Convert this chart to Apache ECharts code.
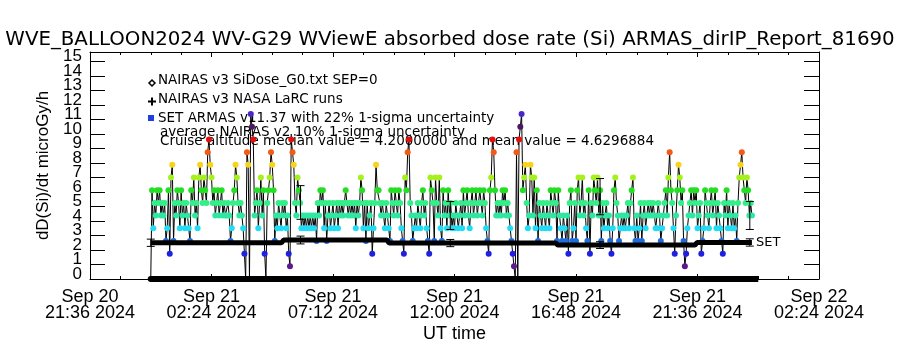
<!DOCTYPE html>
<html>
<head>
<meta charset="utf-8">
<script src="https://cdn.jsdelivr.net/npm/echarts@6/dist/echarts.min.js"></script>
<style>
  html, body { margin: 0; padding: 0; background: #fff; }
  #chart { width: 900px; height: 350px; }
</style>
</head>
<body>
<div id="chart"></div>
<script>
// ---- axis window (UT) ----
const AXIS_START = '2024-09-20T21:36:00Z';
const AXIS_HOURS = 28.8;
const TICK_HOURS = 4.8;
const Y_MAX = 15.66;
const Y_TICKS = [0, 1, 2, 3, 4, 5, 6, 7, 8, 9, 10, 11, 12, 13, 14, 15];
const Y_LABELS_EVEN = [0, 2, 4, 6, 8, 10, 12, 14];
const Y_LABELS_ODD = [1, 3, 5, 7, 9, 11, 13, 15];

// ---- ARMAS quantised dose-rate levels (microGy/h) and their colours ----
const ARMAS_LEVELS = [0, 0.875, 1.75, 2.625, 3.5, 4.375, 5.25, 6.125, 7.0, 7.875, 8.75, 9.625, 10.5, 11.375];
const LEVEL_COLORS = ['#000000', '#5c1a8e', '#2020e0', '#1f6cdc', '#22dcf4', '#2ee8a2', '#34ee8a',
  '#22e022', '#a6f020', '#f6d41e', '#f25a16', '#e41010', '#4c1862', '#4a26d0'];

// ARMAS samples, 3 min cadence from 2024-09-21 00:00 UT, one row per hour (index into ARMAS_LEVELS)
const ARMAS_START = '2024-09-21T00:00:00Z';
const ARMAS_CADENCE_MIN = 3;
const ARMAS_CODES = [
  0, 7, 4, 6, 5, 7, 6, 7, 5, 6, 5, 6, 3, 4, 7, 2, 8, 9, 3, 6,
  5, 7, 6, 4, 7, 5, 6, 4, 6, 5, 4, 3, 7, 6, 8, 5, 6, 4, 8, 9,
  7, 6, 8, 7, 6, 10, 11, 9, 8, 6, 7, 5, 6, 7, 5, 6, 7, 5, 6, 5,
  5, 6, 5, 3, 4, 6, 7, 9, 8, 6, 5, 6, 5, 4, 2, 0, 10, 9, 0, 13,
  12, 11, 5, 6, 7, 4, 6, 8, 5, 7, 2, 0, 6, 7, 8, 10, 9, 7, 3, 5,
  4, 6, 5, 4, 6, 5, 6, 4, 5, 2, 1, 11, 10, 9, 6, 5, 8, 7, 6, 4,
  5, 4, 5, 4, 5, 4, 5, 4, 5, 4, 5, 3, 6, 5, 7, 6, 7, 4, 6, 3,
  5, 6, 4, 5, 6, 4, 5, 6, 4, 6, 5, 6, 5, 6, 7, 6, 5, 6, 5, 6,
  5, 6, 4, 6, 5, 6, 8, 7, 4, 6, 3, 6, 4, 5, 6, 2, 4, 6, 9, 7,
  7, 6, 5, 6, 5, 4, 6, 5, 4, 3, 7, 6, 5, 7, 6, 5, 7, 6, 4, 3,
  2, 8, 7, 10, 11, 6, 5, 3, 4, 5, 4, 6, 5, 4, 6, 7, 5, 6, 4, 3,
  2, 8, 7, 6, 3, 8, 6, 5, 8, 4, 3, 7, 5, 6, 4, 7, 5, 6, 4, 5,
  4, 6, 5, 4, 5, 6, 4, 7, 5, 6, 7, 5, 4, 6, 7, 5, 6, 7, 5, 6,
  7, 6, 5, 7, 6, 4, 3, 2, 7, 8, 11, 10, 7, 5, 6, 5, 6, 5, 7, 6,
  7, 5, 6, 5, 4, 3, 2, 1, 0, 10, 0, 11, 12, 13, 7, 8, 9, 6, 4, 5,
  9, 8, 5, 8, 4, 7, 3, 6, 5, 4, 6, 5, 4, 6, 5, 4, 7, 6, 5, 7,
  6, 3, 7, 5, 4, 3, 5, 4, 3, 5, 2, 6, 7, 3, 4, 6, 3, 7, 8, 5,
  6, 8, 5, 6, 4, 3, 7, 2, 6, 5, 8, 7, 6, 8, 5, 7, 3, 6, 4, 5,
  6, 4, 5, 3, 2, 4, 7, 8, 6, 5, 3, 4, 5, 4, 5, 4, 5, 6, 4, 6,
  7, 8, 4, 3, 5, 3, 4, 6, 3, 5, 6, 4, 5, 6, 5, 6, 5, 6, 5, 4,
  4, 6, 5, 3, 4, 5, 6, 7, 5, 8, 10, 7, 6, 4, 2, 5, 7, 9, 8, 6,
  7, 3, 1, 2, 4, 5, 6, 7, 5, 7, 6, 7, 4, 5, 6, 2, 3, 4, 7, 6,
  5, 4, 6, 7, 5, 6, 7, 4, 6, 5, 4, 3, 2, 6, 5, 7, 4, 6, 5, 4,
  6, 4, 5, 3, 6, 8, 9, 10, 8, 7, 6, 8, 7, 5, 6, 5
];

// NAIRAS v3 NASA LaRC runs (step profile)
const NAIRAS_TIMES = ['2024-09-21T00:00Z', '2024-09-21T05:10Z', '2024-09-21T05:15Z', '2024-09-21T09:20Z',
  '2024-09-21T09:25Z', '2024-09-21T16:00Z', '2024-09-21T16:05Z', '2024-09-21T21:30Z',
  '2024-09-21T21:35Z', '2024-09-21T23:45Z'];
const NAIRAS_VALUES = [2.50, 2.50, 2.69, 2.69, 2.48, 2.48, 2.34, 2.34, 2.52, 2.52];

// NAIRAS SiDose_G0 SEP=0 run
const G0_TIMES = ['2024-09-21T00:00Z', '2024-09-22T00:00Z'];
const G0_VALUES = [0, 0];

// uncertainty bars
const ERR_TIMES = ['2024-09-21T05:55Z', '2024-09-21T11:50Z', '2024-09-21T17:45Z', '2024-09-21T23:40Z'];
const ERR_ARMAS = [5.28, 4.38, 5.68, 4.38];
const ARMAS_SIGMA = 0.22;
const NAIRAS_ERR_TIMES = ['2024-09-21T00:00Z', '2024-09-21T05:55Z', '2024-09-21T11:50Z', '2024-09-21T17:45Z', '2024-09-21T23:40Z'];
const NAIRAS_ERR_VALUES = [2.50, 2.69, 2.48, 2.34, 2.52];
const NAIRAS_SIGMA = 0.10;

const MONTHS = ['Jan', 'Feb', 'Mar', 'Apr', 'May', 'Jun', 'Jul', 'Aug', 'Sep', 'Oct', 'Nov', 'Dec'];
const FONT = '"Liberation Sans", Arial, sans-serif';
const TEXT_FONT = '"DejaVu Sans", sans-serif';

const hoursFrom = iso => (Date.parse(iso) - Date.parse(AXIS_START)) / 3.6e6;
const pad = n => String(n).padStart(2, '0');

function timeLabel(h) {
  const d = new Date(Date.parse(AXIS_START) + Math.round(h * 60) * 60000);
  return MONTHS[d.getUTCMonth()] + ' ' + pad(d.getUTCDate()) + '\n' +
    pad(d.getUTCHours()) + ':' + pad(d.getUTCMinutes()) + ' ' + d.getUTCFullYear();
}

const t0 = hoursFrom(ARMAS_START);
const armasPts = ARMAS_CODES.map((c, i) => [t0 + i * ARMAS_CADENCE_MIN / 60, ARMAS_LEVELS[c], c]);
const nairasPts = NAIRAS_TIMES.map((t, i) => [hoursFrom(t), NAIRAS_VALUES[i]]);
const g0Pts = G0_TIMES.map((t, i) => [hoursFrom(t), G0_VALUES[i]]);
const armasErr = ERR_TIMES.map((t, i) => [hoursFrom(t), ERR_ARMAS[i] * (1 - ARMAS_SIGMA), ERR_ARMAS[i] * (1 + ARMAS_SIGMA)]);
const nairasErr = NAIRAS_ERR_TIMES.map((t, i) => [hoursFrom(t), NAIRAS_ERR_VALUES[i] * (1 - NAIRAS_SIGMA), NAIRAS_ERR_VALUES[i] * (1 + NAIRAS_SIGMA)]);

function errorBar(params, api) {
  const x = api.value(0);
  const lo = api.coord([x, api.value(1)]);
  const hi = api.coord([x, api.value(2)]);
  const style = { stroke: '#000', lineWidth: 1 };
  return {
    type: 'group',
    children: [
      { type: 'line', shape: { x1: lo[0], y1: lo[1], x2: hi[0], y2: hi[1] }, style },
      { type: 'line', shape: { x1: lo[0] - 4, y1: lo[1], x2: lo[0] + 4, y2: lo[1] }, style },
      { type: 'line', shape: { x1: hi[0] - 4, y1: hi[1], x2: hi[0] + 4, y2: hi[1] }, style },
    ],
  };
}

const axisLine = { show: true, onZero: false, lineStyle: { color: '#000', width: 1 } };

function xAxis(position) {
  return {
    type: 'value', position, min: 0, max: AXIS_HOURS, interval: TICK_HOURS,
    axisLine,
    axisTick: { show: true, inside: true, length: 5, lineStyle: { color: '#000' } },
    minorTick: { show: true, splitNumber: 4, length: 3, lineStyle: { color: '#000' } },
    splitLine: { show: false },
    axisLabel: position === 'bottom'
      ? { formatter: timeLabel, color: '#000', fontFamily: FONT, fontSize: 18, lineHeight: 16, margin: 10,
          showMinLabel: true, showMaxLabel: true }
      : { show: false },
  };
}

// labels split over two axes so ECharts does not drop neighbours of the end labels
const yLabel = values => ({
  customValues: values, color: '#000', fontFamily: FONT, fontSize: 17, margin: 8,
  verticalAlign: 'bottom', lineHeight: 10, showMinLabel: true, showMaxLabel: true,
});

function yAxis(position) {
  return {
    type: 'value', position, min: 0, max: Y_MAX, interval: 1,
    axisLine,
    axisTick: { show: true, inside: true, length: 15, customValues: Y_TICKS, lineStyle: { color: '#000', width: 1 } },
    splitLine: { show: false },
    axisLabel: { show: false },
  };
}

const chart = echarts.init(document.getElementById('chart'));

chart.setOption({
  animation: false,
  backgroundColor: '#fff',
  title: {
    text: 'WVE_BALLOON2024 WV-G29 WViewE absorbed dose rate (Si) ARMAS_dirIP_Report_81690',
    left: 'center', top: 25,
    textStyle: { color: '#000', fontFamily: TEXT_FONT, fontSize: 19.8, fontWeight: 'normal' },
  },
  grid: { left: 90, right: 81, top: 52, bottom: 71, containLabel: false, outerBoundsMode: 'none' },
  xAxis: [
    { ...xAxis('bottom'), name: 'UT time', nameLocation: 'middle', nameGap: 46, nameMoveOverlap: false,
      nameTextStyle: { color: '#000', fontFamily: FONT, fontSize: 18 } },
    xAxis('top'),
  ],
  yAxis: [
    { ...yAxis('left'), axisLabel: yLabel(Y_LABELS_EVEN),
      name: 'dD(Si)/dt microGy/h', nameLocation: 'middle', nameGap: 38, nameMoveOverlap: false,
      nameTextStyle: { color: '#000', fontFamily: FONT, fontSize: 17 } },
    yAxis('right'),
    { ...yAxis('left'), axisLine: { show: false }, axisTick: { show: false }, axisLabel: yLabel(Y_LABELS_ODD) },
  ],
  graphic: [
    { type: 'polygon', shape: { points: [[152, 80], [155, 83], [152, 86], [149, 83]] }, style: { fill: null, stroke: '#000', lineWidth: 1.5 } },
    { type: 'line', shape: { x1: 148, y1: 101.5, x2: 156, y2: 101.5 }, style: { stroke: '#000', lineWidth: 2 } },
    { type: 'line', shape: { x1: 152, y1: 97.5, x2: 152, y2: 105.5 }, style: { stroke: '#000', lineWidth: 2 } },
    { type: 'rect', shape: { x: 148, y: 115, width: 6, height: 6 }, style: { fill: '#1f3fe0' } },
    { type: 'text', x: 158, y: 80, style: { text: 'NAIRAS v3 SiDose_G0.txt SEP=0', font: '13.5px ' + TEXT_FONT, fill: '#000', verticalAlign: 'middle' } },
    { type: 'text', x: 158, y: 99, style: { text: 'NAIRAS v3 NASA LaRC runs', font: '13.5px ' + TEXT_FONT, fill: '#000', verticalAlign: 'middle' } },
    { type: 'text', x: 158, y: 118, style: { text: 'SET ARMAS v11.37 with 22% 1-sigma uncertainty', font: '13.5px ' + TEXT_FONT, fill: '#000', verticalAlign: 'middle' } },
    { type: 'text', x: 160, y: 132, style: { text: 'average NAIRAS v2 10% 1-sigma uncertainty', font: '13.5px ' + TEXT_FONT, fill: '#000', verticalAlign: 'middle' } },
    { type: 'text', x: 160, y: 141, style: { text: 'Cruise altitude median value = 4.2000000 and mean value = 4.6296884', font: '13.5px ' + TEXT_FONT, fill: '#000', verticalAlign: 'middle' } },
  ],
  series: [
    {
      name: 'G0', type: 'line', data: g0Pts, symbol: 'none', z: 1,
      lineStyle: { color: '#000', width: 6 },
    },
    {
      name: 'ARMAS line', type: 'line', data: armasPts, showSymbol: false, z: 2,
      lineStyle: { color: '#000', width: 1 },
    },
    {
      name: 'ARMAS', type: 'scatter', data: armasPts, symbol: 'circle', symbolSize: 6, z: 3,
      itemStyle: { color: p => LEVEL_COLORS[p.value[2]], opacity: 1 },
    },
    {
      name: 'NAIRAS', type: 'line', data: nairasPts, symbol: 'none', z: 4,
      lineStyle: { color: '#000', width: 5 },
      endLabel: { show: true, formatter: 'SET', color: '#000', fontFamily: TEXT_FONT, fontSize: 13, distance: 4 },
    },
    { name: 'ARMAS err', type: 'custom', renderItem: errorBar, data: armasErr, z: 5 },
    { name: 'NAIRAS err', type: 'custom', renderItem: errorBar, data: nairasErr, z: 5 },
  ],
});
</script>
</body>
</html>
